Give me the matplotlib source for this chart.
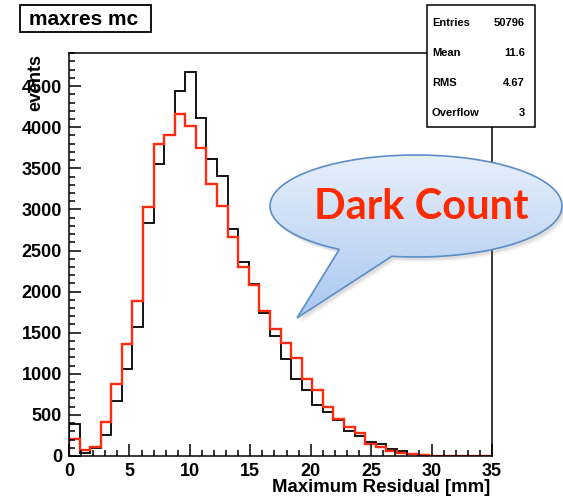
import numpy as np
import matplotlib
matplotlib.use("Agg")
import matplotlib.pyplot as plt
from matplotlib.patches import Rectangle, PathPatch
from matplotlib.path import Path
from matplotlib.ticker import MultipleLocator

# Histogram binning: 40 bins over 0-35 mm
n_bins = 40
x_range = (0.0, 35.0)

# Bin contents
black_counts = [390, 40, 95, 255, 665, 1055, 1565, 2830, 3555, 3900,
                4435, 4670, 4115, 3610, 3405, 2760, 2365, 2090, 1745, 1455,
                1175, 940, 805, 615, 530, 435, 300, 240, 175, 140,
                80, 55, 30, 12, 5, 0, 0, 0, 0, 0]
red_counts = [210, 70, 115, 415, 880, 1360, 1890, 3035, 3795, 3905,
              4160, 4020, 3745, 3310, 3040, 2670, 2300, 2075, 1770, 1540,
              1380, 1195, 940, 800, 600, 455, 355, 275, 140, 115,
              65, 40, 25, 10, 5, 0, 0, 0, 0, 0]

hist_title = "maxres mc"
x_label = "Maximum Residual [mm]"
y_label = "events"
stat_names = ["Entries", "Mean", "RMS", "Overflow"]
stat_values = ["50796", "11.6", "4.67", "3"]
callout_text = "Dark Count"

W, H = 563, 499
plt.rcParams["font.family"] = ["Liberation Sans", "DejaVu Sans"]

fig = plt.figure(figsize=(W / 100, H / 100), dpi=100)
fig.patch.set_facecolor("white")

# main frame in pixel bounds
L, R, T, B = 69, 492, 53, 456
ax = fig.add_axes([L / W, 1 - B / H, (R - L) / W, (B - T) / H])

edges = np.linspace(x_range[0], x_range[1], n_bins + 1)
ax.stairs(black_counts, edges, color="black", linewidth=1.3, baseline=0)
ax.stairs(red_counts, edges, color="#ff2a10", linewidth=1.7, baseline=0)

ax.set_xlim(0, 35)
ax.set_ylim(0, 4903)
ax.xaxis.set_major_locator(MultipleLocator(5))
ax.xaxis.set_minor_locator(MultipleLocator(1))
ax.yaxis.set_major_locator(MultipleLocator(500))
ax.yaxis.set_minor_locator(MultipleLocator(100))
ax.tick_params(which="both", direction="in", top=False, right=False,
               width=1.1, color="black")
ax.tick_params(which="major", length=8.8, labelsize=13, pad=5)
ax.tick_params(which="minor", length=4.5)
for lab in ax.get_xticklabels() + ax.get_yticklabels():
    lab.set_fontweight("bold")
for sp in ax.spines.values():
    sp.set_linewidth(1.1)

# overlay in pixel coordinates for boxes, labels and the callout
ov = fig.add_axes([0, 0, 1, 1], zorder=5)
ov.set_xlim(0, W)
ov.set_ylim(H, 0)
ov.axis("off")
ov.patch.set_alpha(0)

ov.text(490, 487, x_label, ha="right", va="center", fontsize=13.4,
        fontweight="bold")
ov.text(36, 54, y_label, rotation=90, ha="center", va="top", fontsize=13,
        fontweight="bold")

# title box
ov.add_patch(Rectangle((20, 5), 131, 27, facecolor="white",
                       edgecolor="black", linewidth=1.3))
ov.text(84, 19, hist_title, ha="center", va="center", fontsize=15,
        fontweight="bold")

# statistics box
ov.add_patch(Rectangle((427, 5), 108, 122, facecolor="white",
                       edgecolor="black", linewidth=1.1))
for i, (nm, val) in enumerate(zip(stat_names, stat_values)):
    yy = 23 + 30 * i
    ov.text(432, yy, nm, ha="left", va="center", fontsize=8,
            fontweight="bold")
    ov.text(525, yy, val, ha="right", va="center", fontsize=8,
            fontweight="bold")

# speech bubble
cx, cy, a, b = 416, 206, 146, 51
t1, t2 = np.deg2rad(121.7), np.deg2rad(99.5 + 360)
tt = np.linspace(t1, t2, 300)
pts = np.column_stack([cx + a * np.cos(tt), cy + b * np.sin(tt)])
tip = np.array([[297, 318]])
pts = np.vstack([pts, tip, pts[:1]])
codes = [Path.MOVETO] + [Path.LINETO] * (len(pts) - 2) + [Path.CLOSEPOLY]
bubble = Path(pts, codes)

for k, alpha in enumerate([0.12, 0.09, 0.06]):
    sh = Path(pts + np.array([2 + k, 3 + k]), codes)
    ov.add_patch(PathPatch(sh, facecolor="#7f7f7f", edgecolor="none",
                           alpha=alpha))

grad = np.linspace(0, 1, 256)[:, None]
top_c = np.array([0.91, 0.94, 0.985])
bot_c = np.array([0.66, 0.78, 0.94])
img = top_c[None, None, :] * (1 - grad[..., None]) + bot_c[None, None, :] * grad[..., None]
img = np.repeat(img, 2, axis=1)
face = PathPatch(bubble, facecolor="none", edgecolor="none")
ov.add_patch(face)
im = ov.imshow(img, extent=[268, 564, 320, 153], aspect="auto",
               interpolation="bilinear", zorder=1)
im.set_clip_path(face)
ov.add_patch(PathPatch(bubble, facecolor="none", edgecolor="#5b8dc8",
                       linewidth=1.2, zorder=2))
ov.text(421, 207, callout_text, ha="center", va="center", fontsize=30,
        fontweight="bold", color="#ff2a00", family=["Lato", "DejaVu Sans"],
        zorder=3)
ov.set_xlim(0, W)
ov.set_ylim(H, 0)

fig.savefig("out.png", dpi=100)
